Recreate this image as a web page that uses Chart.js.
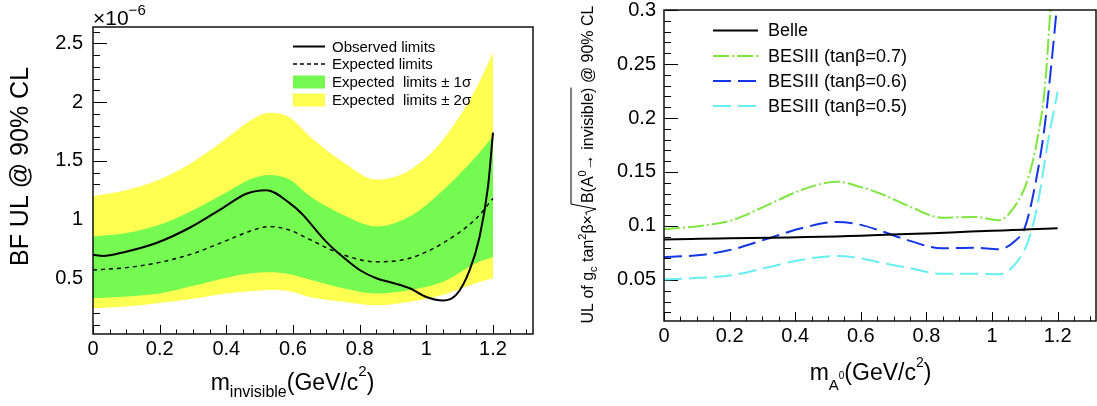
<!DOCTYPE html>
<html><head><meta charset="utf-8">
<script src="https://cdn.jsdelivr.net/npm/chart.js@4.4.1/dist/chart.umd.min.js"></script>
<style>
html,body{margin:0;padding:0;background:#fff;}
#wrap{position:relative;width:1097px;height:406px;overflow:hidden;background:#fff;}
canvas{position:absolute;top:0;}
#c1{left:0;width:548px;height:406px;}
#c2{left:548px;width:549px;height:406px;}
</style></head><body>
<div id="wrap"><canvas id="c1" width="548" height="406"></canvas><canvas id="c2" width="549" height="406"></canvas></div>
<script>
// ---------------- Left panel data (BF UL, units of 1e-6) ----------------
const bandX       = [0,     0.1,   0.2,   0.3,   0.4,  0.47, 0.53, 0.59, 0.65, 0.75, 0.85, 0.95,  1.05, 1.15, 1.2];
const sigma2Upper = [1.20,  1.25,  1.34,  1.49,  1.69, 1.84, 1.91, 1.87, 1.71, 1.49, 1.34, 1.42,  1.68, 2.12, 2.42];
const sigma1Upper = [0.855, 0.885, 0.955, 1.08,  1.23, 1.34, 1.38, 1.34, 1.20, 1.04, 0.94, 1.025, 1.25, 1.54, 1.71];
const expected    = [0.57,  0.59,  0.635, 0.71,  0.82, 0.90, 0.94, 0.91, 0.83, 0.70, 0.64, 0.67,  0.80, 1.01, 1.18];
const sigma1Lower = [0.33,  0.345, 0.37,  0.435, 0.505,0.54, 0.55, 0.535,0.49, 0.415,0.37, 0.40,  0.47, 0.63, 0.68];
const sigma2Lower = [0.245, 0.26,  0.29,  0.325, 0.37, 0.39, 0.40, 0.39, 0.34, 0.30, 0.27, 0.30,  0.36, 0.46, 0.50];
const observedX   = [0, 0.03, 0.09, 0.19, 0.29, 0.39, 0.46, 0.52, 0.59, 0.63, 0.66, 0.70, 0.75, 0.80, 0.85, 0.90, 0.95, 1.00, 1.05, 1.09, 1.13, 1.16, 1.185, 1.2];
const observed    = [0.70, 0.69, 0.72, 0.80, 0.93, 1.10, 1.22, 1.25, 1.14, 1.04, 0.94, 0.81, 0.68, 0.57, 0.50, 0.46, 0.415, 0.34, 0.31, 0.36, 0.57, 0.855, 1.28, 1.74];

// ---------------- Right panel data (UL of g_c tan^2 beta ...) ----------------
const belleX = [0, 0.6, 1.2];
const belle  = [0.0875, 0.091, 0.098];
const tan07X = [0, 0.11, 0.21, 0.31, 0.425, 0.527, 0.6, 0.66, 0.745, 0.847, 0.948, 1.02, 1.07, 1.111, 1.141, 1.162, 1.177, 1.185];
const tan07  = [0.097, 0.100, 0.1056, 0.1186, 0.134, 0.141, 0.136, 0.130, 0.1186, 0.1077, 0.1084, 0.1053, 0.1186, 0.145, 0.185, 0.231, 0.296, 0.33];
const tan06X = [0, 0.11, 0.21, 0.31, 0.425, 0.527, 0.6, 0.66, 0.745, 0.847, 0.948, 1.02, 1.07, 1.1, 1.13, 1.16, 1.18, 1.2];
const tan06  = [0.0712, 0.0731, 0.0784, 0.0877, 0.0984, 0.1037, 0.101, 0.0955, 0.0867, 0.0793, 0.0799, 0.0784, 0.086, 0.0985, 0.1356, 0.191, 0.247, 0.31];
const tan05X = [0, 0.11, 0.21, 0.31, 0.425, 0.527, 0.6, 0.66, 0.745, 0.847, 0.948, 1.02, 1.07, 1.11, 1.141, 1.171, 1.2];
const tan05  = [0.0505, 0.052, 0.0545, 0.0613, 0.069, 0.0722, 0.070, 0.066, 0.0613, 0.0557, 0.0557, 0.0552, 0.0645, 0.086, 0.123, 0.179, 0.224];

// ---------------- Ticks and labels ----------------
const xTickVals = [0, 0.2, 0.4, 0.6, 0.8, 1, 1.2];
const xTickLabels = ['0', '0.2', '0.4', '0.6', '0.8', '1', '1.2'];
const leftYTickVals = [0.5, 1, 1.5, 2, 2.5];
const leftYTickLabels = ['0.5', '1', '1.5', '2', '2.5'];
const rightYTickVals = [0.05, 0.1, 0.15, 0.2, 0.25, 0.3];
const rightYTickLabels = ['0.05', '0.1', '0.15', '0.2', '0.25', '0.3'];
const leftLegend = ['Observed limits', 'Expected limits', 'Expected  limits \u00b1 1\u03c3', 'Expected  limits \u00b1 2\u03c3'];
const rightLegend = ['Belle', 'BESIII (tan\u03b2=0.7)', 'BESIII (tan\u03b2=0.6)', 'BESIII (tan\u03b2=0.5)'];

const FONT = '"Liberation Sans", Arial, Helvetica, sans-serif';
Chart.defaults.font.family = FONT;
Chart.defaults.color = '#000';

const YELLOW = '#ffff52';
const GREEN = '#74fa50';
const LGREEN = '#7ee63e';
const BLUE = '#1436e6';
const CYAN = '#66eef2';

function pts(xs, ys) { return xs.map((x, i) => ({ x: x, y: ys[i] })); }

function drawRich(ctx, segs, cx, cy, rot) {
  let w = 0;
  segs.forEach(g => {
    if (g.t) { ctx.font = g.s + 'px ' + FONT; g.w = ctx.measureText(g.t).width; }
    else if (g.rad) g.w = g.rad;
    else g.w = 0;
    g.x = w; w += g.w;
  });
  ctx.save();
  ctx.translate(cx, cy);
  if (rot) ctx.rotate(rot);
  ctx.fillStyle = '#000'; ctx.strokeStyle = '#000';
  ctx.textAlign = 'left'; ctx.textBaseline = 'alphabetic';
  const x0 = -w / 2;
  let ov = null, oy = 0;
  segs.forEach(g => {
    const gx = x0 + g.x;
    if (g.rad) {
      oy = g.oy;
      ctx.lineWidth = 1;
      ctx.beginPath();
      ctx.moveTo(gx, -6); ctx.lineTo(gx + 2.5, -7.5); ctx.lineTo(gx + 6, 3); ctx.lineTo(gx + g.rad - 1, oy); ctx.stroke();
      ov = gx + g.rad - 1;
    } else if (g.end) {
      ctx.lineWidth = 1;
      ctx.beginPath(); ctx.moveTo(ov, oy); ctx.lineTo(gx, oy); ctx.stroke();
    } else if (g.t) {
      ctx.font = g.s + 'px ' + FONT;
      ctx.fillText(g.t, gx, g.dy || 0);
    }
  });
  ctx.restore();
}

function decor(cfg) {
  return {
    id: 'decor',
    beforeDatasetsDraw(chart) {
      const ctx = chart.ctx, a = chart.chartArea, x = chart.scales.x, y = chart.scales.y;
      ctx.save(); ctx.strokeStyle = '#000'; ctx.lineWidth = 1;
      ctx.beginPath();
      const nx = Math.floor(x.max / cfg.xMinor + 1e-9);
      for (let k = 0; k <= nx; k++) {
        const v = k * cfg.xMinor;
        const major = k % cfg.xEvery === 0;
        const px = Math.round(x.getPixelForValue(v)) + 0.5;
        ctx.moveTo(px, a.bottom); ctx.lineTo(px, a.bottom - (major ? cfg.xMaj : cfg.xMin));
      }
      const k0 = Math.ceil(y.min / cfg.yMinor - 1e-9), k1 = Math.floor(y.max / cfg.yMinor + 1e-9);
      for (let k = k0; k <= k1; k++) {
        const v = k * cfg.yMinor;
        const major = k % cfg.yEvery === 0;
        const py = Math.round(y.getPixelForValue(v)) + 0.5;
        ctx.moveTo(a.left, py); ctx.lineTo(a.left + (major ? cfg.yMaj : cfg.yMin), py);
      }
      ctx.stroke(); ctx.restore();
    },
    afterDatasetsDraw(chart) {
      const ctx = chart.ctx, a = chart.chartArea;
      ctx.save();
      ctx.strokeStyle = '#111'; ctx.lineWidth = 1.5;
      ctx.strokeRect(a.left, a.top, a.right - a.left, a.bottom - a.top);
      ctx.restore();
      cfg.extra(ctx, chart);
    }
  };
}

function axisCommon(min, max, vals, labels, fit, pad, size, horiz) {
  return {
    type: 'linear', min: min, max: max,
    grid: { display: false, drawTicks: false }, border: { display: false },
    ticks: { font: { size: size, lineHeight: 1 }, color: '#000', padding: pad, autoSkip: false, maxRotation: 0, minRotation: 0,
      callback: (v, i) => labels[i] },
    afterBuildTicks: s => { s.ticks = vals.map(v => ({ value: v })); },
    afterFit: s => {
      if (horiz) s.height = fit; else s.width = fit;
      s.paddingTop = 0; s.paddingBottom = 0; s.paddingLeft = 0; s.paddingRight = 0;
    }
  };
}

// ---------------- Left chart ----------------
const lineBase = { pointRadius: 0, cubicInterpolationMode: 'monotone' };
new Chart(document.getElementById('c1'), {
  type: 'line',
  data: {
    datasets: [
      Object.assign({ label: leftLegend[0], data: pts(observedX, observed), borderColor: '#000', borderWidth: 2, fill: false }, lineBase),
      Object.assign({ label: leftLegend[1], data: pts(bandX, expected), borderColor: '#000', borderWidth: 1.4, borderDash: [4, 4], fill: false }, lineBase),
      Object.assign({ label: leftLegend[2], data: pts(bandX, sigma1Upper), borderColor: 'rgba(0,0,0,0)', borderWidth: 0, backgroundColor: GREEN, fill: '+1' }, lineBase),
      Object.assign({ label: 'lo1', data: pts(bandX, sigma1Lower), borderColor: 'rgba(0,0,0,0)', borderWidth: 0, fill: false }, lineBase),
      Object.assign({ label: leftLegend[3], data: pts(bandX, sigma2Upper), borderColor: 'rgba(0,0,0,0)', borderWidth: 0, backgroundColor: YELLOW, fill: '+1' }, lineBase),
      Object.assign({ label: 'lo2', data: pts(bandX, sigma2Lower), borderColor: 'rgba(0,0,0,0)', borderWidth: 0, fill: false }, lineBase)
    ]
  },
  options: {
    responsive: false, animation: false, devicePixelRatio: 1,
    layout: { padding: { left: 0, top: 27, right: 15, bottom: 0 } },
    plugins: { legend: { display: false }, tooltip: { enabled: false } },
    scales: {
      x: axisCommon(0, 1.32, xTickVals, xTickLabels, 72, 5, 20, true),
      y: axisCommon(0.025, 2.64, leftYTickVals, leftYTickLabels, 93, 10, 20, false)
    }
  },
  plugins: [decor({
    xMinor: 0.05, xEvery: 4, xMaj: 9, xMin: 4.5,
    yMinor: 0.1, yEvery: 5, yMaj: 14, yMin: 7,
    extra(ctx) {
      ctx.save();
      ctx.fillStyle = '#000'; ctx.textBaseline = 'middle'; ctx.textAlign = 'left';
      ctx.font = '15px ' + FONT;
      const rows = [46.5, 64, 82, 100];
      // observed
      ctx.strokeStyle = '#000'; ctx.lineWidth = 2; ctx.beginPath(); ctx.moveTo(293, rows[0]); ctx.lineTo(325, rows[0]); ctx.stroke();
      ctx.lineWidth = 1.4; ctx.setLineDash([4, 3]); ctx.beginPath(); ctx.moveTo(293, rows[1]); ctx.lineTo(325, rows[1]); ctx.stroke(); ctx.setLineDash([]);
      ctx.fillStyle = GREEN; ctx.fillRect(293, rows[2] - 6.5, 32, 13);
      ctx.fillStyle = YELLOW; ctx.fillRect(293, rows[3] - 6.5, 32, 13);
      ctx.fillStyle = '#000';
      leftLegend.forEach((t, i) => ctx.fillText(t, 332, rows[i] + 1));
      // exponent
      ctx.textBaseline = 'alphabetic';
      ctx.font = '21px ' + FONT; ctx.fillText('\u00d710', 93, 25);
      const w = ctx.measureText('\u00d710').width;
      ctx.font = '15px ' + FONT; ctx.fillText('\u22126', 93 + w, 15);
      ctx.restore();
      drawRich(ctx, [{ t: 'BF UL @ 90% CL', s: 25 }], 28, 166.5, -Math.PI / 2);
      drawRich(ctx, [
        { t: 'm', s: 23 }, { t: 'invisible', s: 16, dy: 7 }, { t: '(GeV/c', s: 23 }, { t: '2', s: 15, dy: -14 }, { t: ')', s: 23 }
      ], 292.5, 390, 0);
    }
  })]
});

// ---------------- Right chart ----------------
new Chart(document.getElementById('c2'), {
  type: 'line',
  data: {
    datasets: [
      Object.assign({ label: rightLegend[0], data: pts(belleX, belle), borderColor: '#000', borderWidth: 2, fill: false }, lineBase),
      Object.assign({ label: rightLegend[1], data: pts(tan07X, tan07), borderColor: LGREEN, borderWidth: 2, borderDash: [16, 3, 2, 3], fill: false }, lineBase),
      Object.assign({ label: rightLegend[2], data: pts(tan06X, tan06), borderColor: BLUE, borderWidth: 2, borderDash: [18, 7], fill: false }, lineBase),
      Object.assign({ label: rightLegend[3], data: pts(tan05X, tan05), borderColor: CYAN, borderWidth: 2, borderDash: [18, 7], fill: false }, lineBase)
    ]
  },
  options: {
    responsive: false, animation: false, devicePixelRatio: 1,
    layout: { padding: { left: 0, top: 10, right: 1, bottom: 0 } },
    plugins: { legend: { display: false }, tooltip: { enabled: false } },
    scales: {
      x: axisCommon(0, 1.317, xTickVals, xTickLabels, 85, 5, 20, true),
      y: axisCommon(0.012, 0.3, rightYTickVals, rightYTickLabels, 116, 8, 20, false)
    }
  },
  plugins: [decor({
    xMinor: 0.05, xEvery: 4, xMaj: 9, xMin: 4.5,
    yMinor: 0.01, yEvery: 5, yMaj: 14, yMin: 7,
    extra(ctx, chart) {
      ctx.save();
      const rows = [30.5, 56, 81, 106];
      const ds = chart.data.datasets;
      ds.forEach((d, i) => {
        ctx.strokeStyle = d.borderColor; ctx.lineWidth = 2;
        ctx.setLineDash(d.borderDash || []);
        ctx.beginPath(); ctx.moveTo(165, rows[i]); ctx.lineTo(210, rows[i]); ctx.stroke();
      });
      ctx.setLineDash([]);
      ctx.fillStyle = '#000'; ctx.textBaseline = 'middle'; ctx.textAlign = 'left';
      ctx.font = '18px ' + FONT;
      rightLegend.forEach((t, i) => ctx.fillText(t, 220, rows[i] + 1));
      ctx.restore();
      drawRich(ctx, [
        { t: 'm', s: 23 }, { t: 'A', s: 15, dy: 10 }, { t: '0', s: 10, dy: -1 }, { t: '(GeV/c', s: 23 }, { t: '2', s: 14, dy: -13 }, { t: ')', s: 23 }
      ], 322.5, 380, 0);
      drawRich(ctx, [
        { t: 'UL of g', s: 16 }, { t: 'c', s: 11, dy: 4 }, { t: ' tan', s: 16 }, { t: '2', s: 11, dy: -7 }, { t: '\u03b2\u00d7', s: 16 },
        { rad: 12, oy: -22 }, { t: 'B(A', s: 16 }, { t: '0', s: 11, dy: -7 }, { t: '\u2192 invisible)', s: 16 }, { end: true },
        { t: ' @ 90% CL', s: 16 }
      ], 45, 164.5, -Math.PI / 2);
    }
  })]
});
</script>
</body></html>
